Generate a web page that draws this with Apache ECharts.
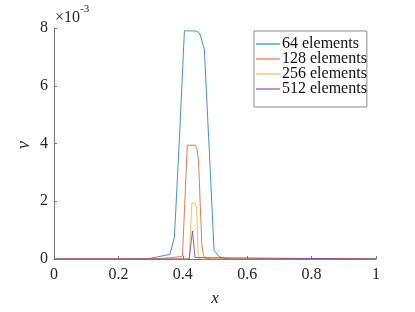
<!DOCTYPE html>
<html><head><meta charset="utf-8">
<script src="https://cdn.jsdelivr.net/npm/echarts@6/dist/echarts.min.js"></script>
<style>html,body{margin:0;padding:0;background:#fff}#c{width:415px;height:312px}</style>
</head><body><div id="c"></div>
<script>
// values in units of 1e-3
const seriesNames = ['64 elements', '128 elements', '256 elements', '512 elements'];
const x64 = [0, 0.1, 0.2, 0.25, 0.298, 0.36, 0.374, 0.39, 0.405, 0.436, 0.445, 0.453, 0.467, 0.482, 0.497, 0.513, 0.53, 0.55, 1];
const y64 = [0, 0, 0, 0.005, 0.02, 0.16, 0.76, 4.3, 7.9, 7.9, 7.88, 7.8, 7.25, 3.8, 0.3, 0.08, 0.02, 0, 0];
const x128 = [0, 0.3, 0.36, 0.39, 0.399, 0.414, 0.438, 0.443, 0.449, 0.459, 0.464, 0.47, 0.49, 1];
const y128 = [0, 0, 0.04, 0.08, 0.1, 3.94, 3.94, 3.85, 3.4, 0.5, 0.12, 0.03, 0, 0];
const x256 = [0, 0.41, 0.42, 0.428, 0.437, 0.443, 0.448, 0.455, 1];
const y256 = [0, 0, 0.02, 1.94, 1.94, 1.77, 0.05, 0, 0];
const x512 = [0, 0.42, 0.424, 0.43, 0.435, 0.438, 0.442, 1];
const y512 = [0, 0, 0.02, 0.97, 0.97, 0.05, 0, 0];
const xTicks = [0, 0.2, 0.4, 0.6, 0.8, 1];
const yTicks = [0, 2, 4, 6, 8];

const colors = ['#0072BD', '#D95319', '#EDB120', '#7E2F8E'];
const xs = [x64, x128, x256, x512];
const ys = [y64, y128, y256, y512];
const font = 'Liberation Serif';
const chart = echarts.init(document.getElementById('c'), null, {renderer: 'canvas'});
chart.setOption({
  animation: false,
  color: colors,
  textStyle: {fontFamily: font},
  grid: {left: 54, right: 39, top: 28, bottom: 50, containLabel: false},
  xAxis: {
    type: 'value', min: 0, max: 1, interval: 0.2,
    axisLine: {show: true, lineStyle: {color: '#7a7a7a', width: 1}},
    axisTick: {show: true, inside: true, length: 3, lineStyle: {color: '#7a7a7a'}},
    splitLine: {show: false},
    axisLabel: {fontFamily: font, fontSize: 16, color: '#262626', margin: 8,
      formatter: v => xTicks.includes(+v.toFixed(2)) ? String(+v.toFixed(2)) : ''},
    name: 'x', nameLocation: 'middle', nameGap: 31,
    nameTextStyle: {fontFamily: font, fontSize: 17, fontStyle: 'italic', color: '#262626'}
  },
  yAxis: {
    type: 'value', min: 0, max: 8, interval: 2,
    axisLine: {show: true, lineStyle: {color: '#7a7a7a', width: 1}},
    axisTick: {show: true, inside: true, length: 3, lineStyle: {color: '#7a7a7a'}},
    splitLine: {show: false},
    axisLabel: {fontFamily: font, fontSize: 16, color: '#262626', margin: 6,
      formatter: v => yTicks.includes(v) ? String(v) : ''}
  },
  legend: {
    orient: 'vertical', left: 254, top: 31,
    backgroundColor: '#fff', borderColor: '#8a8a8a', borderWidth: 1, borderRadius: 0,
    padding: [5, 0, 10, 2], itemGap: -1, itemWidth: 24, itemHeight: 12,
    textStyle: {fontFamily: font, fontSize: 16, color: '#111', padding: [0, 0, 0, -3]},
    data: seriesNames.map(n => ({name: n, icon: 'path://M0,6 L24,6 L24,7 L0,7 Z'}))
  },
  graphic: [{
    type: 'text', left: 55, top: 4,
    style: {text: '{a|×10}{b|-3}', rich: {
      a: {fontFamily: font, fontSize: 16, fill: '#262626', padding: [6, 0, 0, 0]},
      b: {fontFamily: font, fontSize: 11, fill: '#262626', verticalAlign: 'top', padding: [0, 0, 8, 0]}
    }}
  }, {
    type: 'text', x: 24, y: 145, rotation: Math.PI / 2,
    style: {text: 'ν', fontFamily: font, fontSize: 18, fontStyle: 'italic', fill: '#262626',
      align: 'center', verticalAlign: 'middle'}
  }],
  series: seriesNames.map((n, i) => ({
    name: n, type: 'line', symbol: 'none', smooth: false,
    itemStyle: {color: colors[i]},
    lineStyle: {width: 1, color: colors[i], opacity: 0.75},
    data: xs[i].map((x, j) => [x, ys[i][j]])
  }))
});
</script></body></html>
